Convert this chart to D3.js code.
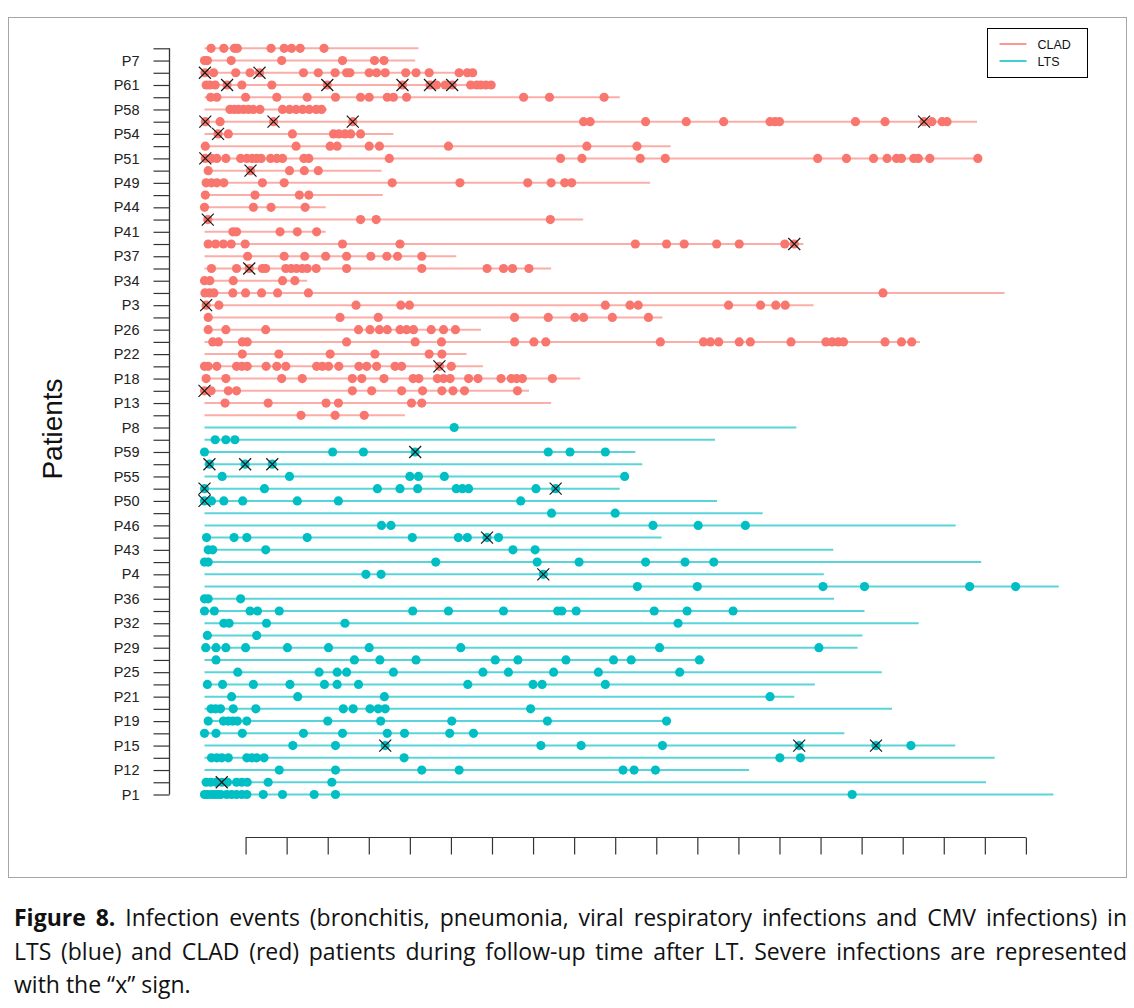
<!DOCTYPE html>
<html>
<head>
<meta charset="utf-8">
<script src="https://cdn.jsdelivr.net/npm/d3@7"></script>
<style>
  body { margin: 0; background: #fff; }
  svg { display: block; }
</style>
</head>
<body>
<div id="chart"></div>
<script>
// Follow-up per patient row (top to bottom), in axis-tick units
var cladFollowUp = [5.21, 5.13, 6.63, 7.0, 10.11, 2.98, 18.81, 4.6, 11.35, 18.83,
  4.31, 10.85, 4.34, 2.95, 9.22, 2.95, 14.58, 6.13, 8.44, 2.50,
  19.48, 14.83, 11.15, 6.73, 17.42, 6.38, 6.78, 9.15, 7.90, 8.44, 4.88];

var cladEvents = [
  [0.16, 0.47, 0.73, 0.80, 1.62, 1.94, 2.12, 2.33, 2.91],
  [0.0, 0.07, 0.65, 1.88, 3.36, 4.14, 4.37],
  [0.01, 0.22, 0.76, 1.11, 1.34, 2.41, 2.77, 3.18, 3.46, 3.54, 4.01, 4.19, 4.40, 4.90, 5.15, 5.47, 6.20, 6.40, 6.53],
  [0.04, 0.13, 0.26, 0.55, 0.91, 1.64, 2.99, 4.82, 5.49, 5.65, 5.86, 6.03, 6.48, 6.63, 6.73, 6.85, 6.98],
  [0.15, 0.30, 1.0, 1.76, 2.50, 3.19, 3.80, 4.01, 4.45, 4.60, 4.92, 7.77, 8.40, 9.73],
  [0.62, 0.73, 0.83, 0.95, 1.07, 1.19, 1.35, 1.90, 2.07, 2.23, 2.39, 2.55, 2.72, 2.85],
  [0.02, 0.38, 1.68, 3.61, 9.23, 9.39, 10.74, 11.73, 12.64, 13.77, 13.89, 14.00, 15.85, 16.57, 17.52, 17.71, 17.96, 18.08],
  [0.33, 0.58, 2.14, 3.14, 3.27, 3.42, 3.56, 3.80],
  [0.02, 2.23, 3.06, 3.23, 4.01, 4.26, 5.94, 9.31, 10.53],
  [0.02, 0.17, 0.30, 0.52, 0.88, 1.03, 1.16, 1.27, 1.38, 1.61, 1.76, 1.90, 2.42, 2.54, 4.50, 8.67, 9.19, 10.61, 11.22, 14.93, 15.63, 16.29, 16.62, 16.85, 16.97, 17.27, 17.38, 17.66, 18.83],
  [0.09, 1.12, 2.07, 2.43, 2.77],
  [0.04, 0.17, 0.30, 0.47, 1.41, 1.94, 4.57, 6.22, 7.87, 8.44, 8.77, 8.94],
  [0.02, 1.23, 2.31, 2.54],
  [0.0, 1.19, 1.62, 2.45],
  [0.08, 3.80, 4.18, 8.42],
  [0.69, 0.78, 1.84, 2.26, 2.73],
  [0.09, 0.27, 0.46, 0.65, 0.99, 3.36, 4.76, 10.49, 11.25, 11.68, 12.47, 13.02, 14.13, 14.36],
  [1.05, 1.94, 2.44, 2.95, 3.46, 4.05, 4.44, 4.70, 5.29],
  [0.17, 0.78, 1.09, 1.41, 1.49, 1.98, 2.11, 2.24, 2.38, 2.50, 2.72, 3.46, 5.29, 6.88, 7.28, 7.50, 7.90],
  [0.0, 0.13, 0.70, 1.90, 2.20],
  [0.01, 0.12, 0.23, 0.69, 1.00, 1.39, 1.78, 2.53, 16.52],
  [0.04, 0.35, 3.69, 4.78, 4.99, 9.76, 10.36, 10.56, 12.76, 13.54, 13.91, 14.14],
  [0.09, 3.30, 4.23, 7.55, 8.37, 9.02, 9.23, 9.93, 10.81],
  [0.09, 0.52, 1.49, 3.75, 4.03, 4.26, 4.45, 4.76, 4.92, 5.09, 5.52, 5.82, 6.11],
  [0.20, 0.34, 0.92, 1.04, 3.46, 5.13, 5.77, 7.55, 8.02, 8.31, 11.10, 12.15, 12.32, 12.52, 13.02, 13.29, 14.28, 15.13, 15.28, 15.43, 15.56, 16.57, 16.97, 17.22],
  [0.92, 1.81, 3.06, 4.15, 5.47, 5.78],
  [0.0, 0.09, 0.30, 0.78, 0.91, 1.04, 1.50, 1.76, 1.98, 2.73, 2.87, 3.02, 3.27, 3.76, 3.95, 4.19, 4.64, 4.80, 5.72, 6.01],
  [0.04, 0.52, 1.88, 2.38, 3.60, 3.83, 4.37, 5.08, 5.22, 5.67, 5.82, 5.98, 6.43, 6.66, 7.22, 7.47, 7.60, 7.74, 8.47],
  [0.0, 0.16, 0.58, 0.78, 3.60, 4.07, 4.80, 5.31, 5.78, 6.05, 6.33, 7.62],
  [0.50, 1.55, 2.96, 3.26, 5.04, 5.29],
  [2.35, 3.18, 3.89]
];

var cladSevere = [
  [], [], [0.01, 1.34], [0.55, 2.99, 4.82, 5.49, 6.03], [], [], [0.02, 1.68, 3.61, 17.52], [0.33], [], [0.02],
  [1.12], [], [], [], [0.08], [], [14.36], [], [1.09], [],
  [], [0.04], [], [], [], [], [5.72], [], [0.0], [], []
];

var ltsFollowUp = [14.41, 12.43, 10.49, 10.66, 10.31, 10.11, 12.48, 13.59, 18.29, 11.13,
  15.31, 18.91, 15.08, 20.80, 15.33, 16.07, 17.39, 16.02, 15.90, 12.18,
  16.49, 14.86, 14.36, 16.74, 11.30, 15.58, 18.28, 19.24, 13.26, 19.03, 20.67];

var ltsEvents = [
  [6.08],
  [0.26, 0.52, 0.74],
  [0.0, 3.12, 3.87, 5.13, 8.37, 8.90, 9.76],
  [0.12, 0.99, 1.65],
  [0.43, 2.07, 5.00, 5.21, 5.84, 10.23],
  [0.0, 1.46, 4.21, 4.76, 5.19, 6.13, 6.28, 6.43, 8.07, 8.55],
  [0.0, 0.17, 0.47, 0.93, 2.26, 3.26, 7.70],
  [8.45, 10.0],
  [4.31, 4.54, 10.92, 12.02, 13.17],
  [0.05, 0.72, 1.03, 2.50, 5.06, 6.18, 6.40, 6.88, 7.16],
  [0.09, 0.20, 1.49, 7.51, 8.05],
  [0.0, 0.09, 5.63, 8.10, 9.12, 10.74, 11.70, 12.40],
  [3.93, 4.30, 8.25],
  [10.54, 12.0, 15.06, 16.07, 18.63, 19.75],
  [0.0, 0.09, 0.88],
  [0.0, 0.24, 1.11, 1.29, 1.82, 5.07, 5.94, 7.28, 8.60, 8.70, 9.05, 10.95, 11.75, 12.87],
  [0.47, 0.60, 1.51, 3.42, 11.53],
  [0.07, 1.27],
  [0.03, 0.28, 0.52, 1.0, 2.02, 3.02, 4.01, 6.24, 11.08, 14.96],
  [0.28, 3.65, 4.27, 5.15, 7.08, 7.63, 8.80, 9.96, 10.39, 12.05],
  [0.81, 2.79, 3.23, 3.46, 4.60, 6.78, 7.40, 8.50, 9.59, 11.57],
  [0.07, 0.44, 1.19, 2.08, 2.92, 3.23, 3.75, 6.41, 8.00, 8.22, 9.76],
  [0.66, 2.27, 4.38, 13.77],
  [0.16, 0.27, 0.39, 0.70, 1.25, 3.38, 3.62, 4.03, 4.23, 4.40, 7.94],
  [0.09, 0.46, 0.58, 0.69, 0.80, 1.03, 3.0, 4.29, 6.02, 8.35, 11.25],
  [0.0, 0.28, 0.92, 2.41, 3.36, 4.45, 4.87, 5.97, 6.55],
  [2.15, 3.19, 4.40, 8.19, 9.17, 11.15, 14.48, 16.35, 17.20],
  [0.17, 0.30, 0.42, 0.58, 1.03, 1.15, 1.27, 1.45, 4.86, 14.01, 14.51],
  [1.82, 3.19, 5.29, 6.20, 10.19, 10.46, 10.98],
  [0.04, 0.15, 0.28, 0.42, 0.56, 0.78, 0.91, 1.04, 1.55, 3.10],
  [0.0, 0.07, 0.16, 0.24, 0.32, 0.40, 0.54, 0.66, 0.78, 0.91, 1.03, 1.43, 1.90, 2.67, 3.19, 15.77]
];

var ltsSevere = [
  [], [], [5.13], [0.12, 0.99, 1.65], [], [0.0, 8.55], [0.0], [], [], [6.88],
  [], [], [8.25], [], [], [], [], [], [], [],
  [], [], [], [], [], [], [4.40, 14.48, 16.35], [], [], [0.42], []
];

// Labels that survive on the y axis (every second row, starting with row 1)
var shownLabels = ["P7", "P61", "P58", "P54", "P51", "P49", "P44", "P41", "P37", "P34",
  "P3", "P26", "P22", "P18", "P13", "P8", "P59", "P55", "P50", "P46",
  "P43", "P4", "P36", "P32", "P29", "P25", "P21", "P19", "P15", "P12", "P1"];

var xTicks = [1, 2, 3, 4, 5, 6, 7, 8, 9, 10, 11, 12, 13, 14, 15, 16, 17, 18, 19, 20];
var groups = ["CLAD", "LTS"];
var groupColors = ["#F8766D", "#00BFC4"];

var captionLines = [
  "Figure 8. Infection events (bronchitis, pneumonia, viral respiratory infections and CMV infections) in",
  "LTS (blue) and CLAD (red) patients during follow-up time after LT. Severe infections are represented",
  "with the \u201cx\u201d sign."
];

var svgWidth = 1134;
var svgHeight = 1008;

var rows = cladFollowUp.map((end, i) => ({ group: "CLAD", end: end, events: cladEvents[i], severe: cladSevere[i] }))
  .concat(ltsFollowUp.map((end, i) => ({ group: "LTS", end: end, events: ltsEvents[i], severe: ltsSevere[i] })));
rows.forEach((d, i) => { d.row = i; });

var color = d3.scaleOrdinal().domain(groups).range(groupColors);

var x = d3.scaleLinear().domain([0, 20]).range([204.5, 1025.9]);
var y = d3.scaleLinear().domain([0, rows.length - 1]).range([48.3, 794.5]);

var svg = d3.select("#chart")
  .append("svg")
  .attr("width", svgWidth)
  .attr("height", svgHeight);

// figure frame
svg.append("rect")
  .attr("x", 8.5)
  .attr("y", 17.5)
  .attr("width", 1118)
  .attr("height", 860)
  .attr("fill", "none")
  .attr("stroke", "#a6a6a6")
  .attr("stroke-width", 1);

// follow-up lines
svg.append("g")
  .selectAll("line")
  .data(rows)
  .enter()
  .append("line")
  .attr("x1", x(0))
  .attr("x2", d => x(d.end))
  .attr("y1", d => y(d.row))
  .attr("y2", d => y(d.row))
  .attr("stroke", d => color(d.group))
  .attr("stroke-opacity", d => d.group === "CLAD" ? 0.6 : 0.65)
  .attr("stroke-width", 2);

// infection events
var eventData = [];
rows.forEach(d => d.events.forEach(t => eventData.push({ group: d.group, row: d.row, t: t })));

svg.append("g")
  .selectAll("circle")
  .data(eventData)
  .enter()
  .append("circle")
  .attr("cx", d => x(d.t))
  .attr("cy", d => y(d.row))
  .attr("r", 4.6)
  .attr("fill", d => color(d.group));

// severe infections
var severeData = [];
rows.forEach(d => d.severe.forEach(t => severeData.push({ row: d.row, t: t })));

svg.append("g")
  .selectAll("path")
  .data(severeData)
  .enter()
  .append("path")
  .attr("transform", d => `translate(${x(d.t)},${y(d.row)})`)
  .attr("d", "M-6,-6L6,6M-6,6L6,-6")
  .attr("stroke", "#1a1a1a")
  .attr("stroke-width", 1.2)
  .attr("fill", "none");

// y axis
var yAxis = d3.axisLeft(y)
  .tickValues(rows.map(d => d.row))
  .tickSize(16)
  .tickPadding(14)
  .tickFormat(i => (i % 2 === 1) ? shownLabels[(i - 1) / 2] : "");

var yAxisG = svg.append("g")
  .attr("transform", "translate(169.5,0)")
  .call(yAxis);
yAxisG.select(".domain").attr("d", `M0,${y(0)}V${y(rows.length - 1)}`).attr("stroke", "#333").attr("stroke-width", 1.3);
yAxisG.selectAll(".tick line").attr("stroke", "#333").attr("stroke-width", 1.2);
yAxisG.selectAll(".tick text")
  .attr("font-family", "'Liberation Sans', Arial, sans-serif")
  .attr("font-size", 14.5)
  .attr("fill", "#222");

// x axis, no labels; line runs from the first to the last tick
var xAxisG = svg.append("g")
  .attr("transform", "translate(0,837.5)")
  .call(d3.axisBottom(x).tickValues(xTicks).tickSize(17).tickFormat(""));
xAxisG.select(".domain").attr("d", `M${x(xTicks[0])},0H${x(xTicks[xTicks.length - 1])}`).attr("stroke", "#333").attr("stroke-width", 1.2);
xAxisG.selectAll(".tick line").attr("stroke", "#333").attr("stroke-width", 1.2);

// y axis title
svg.append("text")
  .attr("transform", "translate(62,429) rotate(-90)")
  .attr("text-anchor", "middle")
  .attr("font-family", "'Liberation Sans', Arial, sans-serif")
  .attr("font-size", 28)
  .attr("fill", "#111")
  .text("Patients");

// legend
var legend = svg.append("g").attr("transform", "translate(987.5,28.5)");
legend.append("rect")
  .attr("width", 100)
  .attr("height", 49)
  .attr("fill", "#fff")
  .attr("stroke", "#000")
  .attr("stroke-width", 1);
legend.selectAll("line")
  .data(groups)
  .enter()
  .append("line")
  .attr("x1", 12)
  .attr("x2", 39)
  .attr("y1", (d, i) => 15.5 + i * 17)
  .attr("y2", (d, i) => 15.5 + i * 17)
  .attr("stroke", d => color(d))
  .attr("stroke-width", 1.5);
legend.selectAll("text")
  .data(groups)
  .enter()
  .append("text")
  .attr("x", 50)
  .attr("y", (d, i) => 20 + i * 17)
  .attr("font-family", "'Liberation Sans', Arial, sans-serif")
  .attr("font-size", 12.5)
  .attr("fill", "#111")
  .text(d => d);

// caption, justified like the paper
var capLeft = 14, capRight = 1127, capTop = 926, capStep = 33.5;
var capFont = "'Open Sans', Lato, sans-serif", capSize = 23;
var caption = svg.append("g").attr("font-family", capFont).attr("font-size", capSize).attr("fill", "#111");

captionLines.forEach((line, li) => {
  var words = line.split(" ");
  var nodes = words.map((w, wi) => caption.append("text")
    .attr("y", capTop + li * capStep)
    .attr("font-weight", (li === 0 && wi < 2) ? "bold" : "normal")
    .text(w));
  var widths = nodes.map(n => n.node().getComputedTextLength());
  var total = d3.sum(widths);
  var last = li === captionLines.length - 1;
  var gap = last ? capSize * 0.26 : (capRight - capLeft - total) / (words.length - 1);
  var pos = capLeft;
  nodes.forEach((n, wi) => {
    n.attr("x", pos);
    pos += widths[wi] + gap;
  });
});
</script>
</body>
</html>
